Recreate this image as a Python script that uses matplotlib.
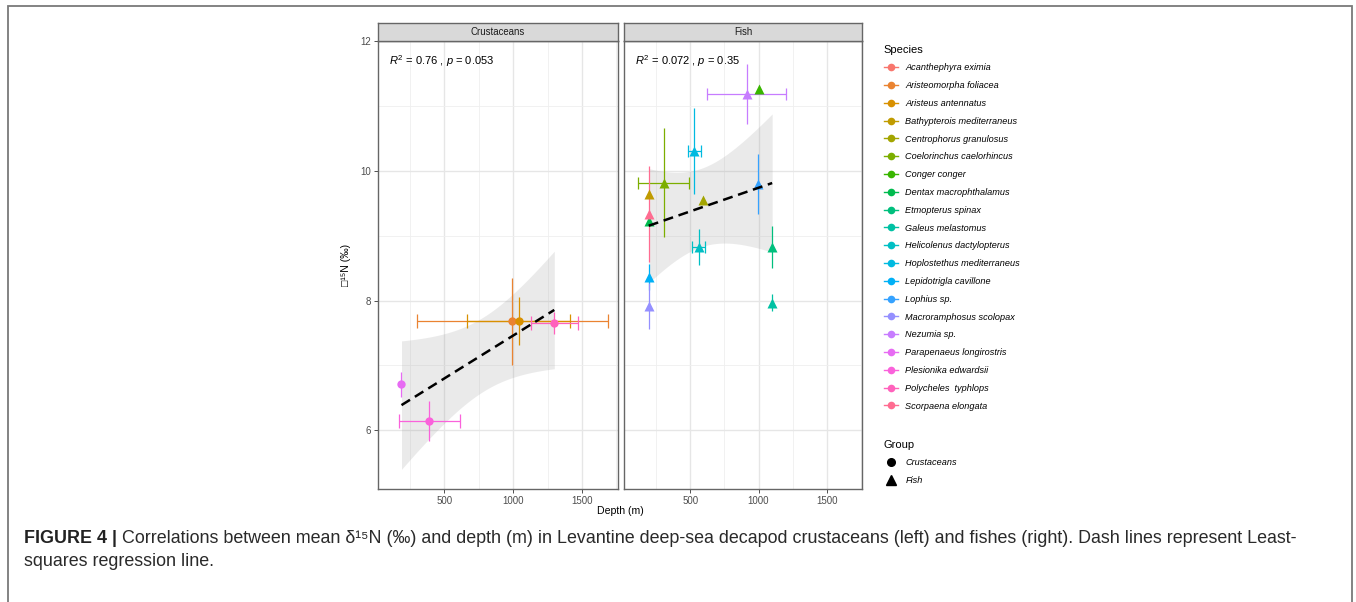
import numpy as np
import matplotlib
matplotlib.use("Agg")
import matplotlib.pyplot as plt
from matplotlib.lines import Line2D
from matplotlib.patches import Rectangle

plt.rcParams['font.family'] = ['Liberation Sans', 'DejaVu Sans']
plt.rcParams['mathtext.fontset'] = 'custom'
plt.rcParams['mathtext.rm'] = 'Liberation Sans'
plt.rcParams['mathtext.it'] = 'Liberation Sans:italic'

# ---------------- data ----------------
species = ["Acanthephyra eximia", "Aristeomorpha foliacea", "Aristeus antennatus",
           "Bathypterois mediterraneus", "Centrophorus granulosus", "Coelorinchus caelorhincus",
           "Conger conger", "Dentax macrophthalamus", "Etmopterus spinax", "Galeus melastomus",
           "Helicolenus dactylopterus", "Hoplostethus mediterraneus", "Lepidotrigla cavillone",
           "Lophius sp.", "Macroramphosus scolopax", "Nezumia sp.", "Parapenaeus longirostris",
           "Plesionika edwardsii", "Polycheles  typhlops", "Scorpaena elongata"]
group = ["Crustaceans", "Crustaceans", "Crustaceans", "Fish", "Fish", "Fish", "Fish", "Fish",
         "Fish", "Fish", "Fish", "Fish", "Fish", "Fish", "Fish", "Fish", "Crustaceans",
         "Crustaceans", "Crustaceans", "Fish"]
nan = np.nan
depth = [nan, 995, 1040, 196, 597, 305, 1000, 196, 1100, 1100, 561, 529, 196, 998, 196,
         913, 188, 390, 1299, 196]
depth_sd = [nan, 695, 375, nan, nan, 189, nan, nan, nan, nan, 50, 48, nan, nan, nan,
            287, nan, 220, 173, nan]
d15n = [nan, 7.68, 7.68, 9.64, 9.56, 9.82, 11.27, 9.23, 8.83, 7.97, 8.83, 10.31, 8.36,
        9.80, 7.92, 11.19, 6.71, 6.14, 7.66, 9.34]
d15n_sd = [nan, 0.67, 0.37, nan, nan, 0.84, nan, nan, 0.32, 0.13, 0.28, 0.66, 0.20,
           0.46, 0.36, 0.46, 0.19, 0.31, 0.17, 0.74]
panels = ["Crustaceans", "Fish"]
stat_labels = [r"$R^2$ = 0.76 , $p$ = 0.053", r"$R^2$ = 0.072 , $p$ = 0.35"]
x_ticks = [500, 1000, 1500]
y_ticks = [6, 8, 10, 12]

# ggplot2 default hue palette (20 levels)
colors = ["#F8766D", "#EA8331", "#D89000", "#C09B00", "#A3A500", "#7CAE00", "#39B600",
          "#00BB4E", "#00BF7D", "#00C1A3", "#00BFC4", "#00BAE0", "#00B0F6", "#35A2FF",
          "#9590FF", "#C77CFF", "#E76BF3", "#FA62DB", "#FF62BC", "#FF6C91"]
markers = {"Crustaceans": "o", "Fish": "^"}
msizes = {"Crustaceans": 6.0, "Fish": 7.4}
capsz = {"Crustaceans": 5.0, "Fish": 4.0}
t_crit = {3: 3.182446, 12: 2.178813}  # 97.5% t quantiles

W, H = 1356, 602
fig = plt.figure(figsize=(W / 100, H / 100), dpi=100)

def fx(px):
    return px / W

def fy(py):
    return 1 - py / H

# outer frame
fig.add_artist(Rectangle((fx(8.3), -0.02), fx(1351.5) - fx(8.3), fy(6.3) + 0.02,
                         transform=fig.transFigure, fill=False, ec="#7a7a7a", lw=1.3,
                         clip_on=False))

panel_x = [(377.7, 617.7), (624.0, 862.3)]
ptop, pbot = 40.7, 489.3
xlim = (15, 1760)
ylim = (5.09, 12.01)

for k, (pname, (x0, x1)) in enumerate(zip(panels, panel_x)):
    ax = fig.add_axes([fx(x0), fy(pbot), fx(x1) - fx(x0), fy(ptop) - fy(pbot)])
    ax.set_xlim(*xlim)
    ax.set_ylim(*ylim)
    ax.set_xticks(x_ticks)
    ax.set_xticks([250, 750, 1250, 1750], minor=True)
    ax.set_yticks(y_ticks)
    ax.set_yticks([7, 9, 11], minor=True)
    ax.grid(which="major", color="#E6E6E6", lw=1.0, zorder=0)
    ax.grid(which="minor", color="#EFEFEF", lw=0.6, zorder=0)
    ax.set_axisbelow(True)
    for sp in ax.spines.values():
        sp.set_color("#666666")
        sp.set_linewidth(1.0)
    ax.tick_params(which="minor", length=0)
    ax.tick_params(which="major", length=2.7, width=0.6, color="#333333",
                   labelsize=7.0, labelcolor="#4D4D4D", pad=1.8)
    if k == 1:
        ax.tick_params(axis="y", which="major", length=0, labelleft=False)

    idx = [i for i in range(len(species)) if group[i] == pname and not np.isnan(depth[i])]
    xs = np.array([depth[i] for i in idx], dtype=float)
    ys = np.array([d15n[i] for i in idx], dtype=float)

    # least squares fit with 95% CI
    n = len(xs)
    xm, ym = xs.mean(), ys.mean()
    sxx = np.sum((xs - xm) ** 2)
    slope = np.sum((xs - xm) * (ys - ym)) / sxx
    icpt = ym - slope * xm
    resid = ys - (icpt + slope * xs)
    s = np.sqrt(np.sum(resid ** 2) / (n - 2))
    xg = np.linspace(xs.min(), xs.max(), 80)
    yg = icpt + slope * xg
    se = s * np.sqrt(1.0 / n + (xg - xm) ** 2 / sxx)
    tc = t_crit[n - 2]
    ax.fill_between(xg, yg - tc * se, yg + tc * se, color="#999999", alpha=0.2, lw=0,
                    zorder=1)

    for i in idx:
        c = colors[i]
        if not np.isnan(d15n_sd[i]):
            ax.errorbar(depth[i], d15n[i], yerr=d15n_sd[i], fmt="none", ecolor=c,
                        elinewidth=0.9, capsize=0, zorder=3)
        if not np.isnan(depth_sd[i]):
            ax.errorbar(depth[i], d15n[i], xerr=depth_sd[i], fmt="none", ecolor=c,
                        elinewidth=0.9, capsize=capsz[pname], capthick=0.9, zorder=3)
    for i in idx:
        ax.plot(depth[i], d15n[i], marker=markers[pname], ms=msizes[pname], color=colors[i],
                mec="none", ls="none", zorder=4)

    ax.plot(xg, yg, color="black", lw=1.8, ls=(0, (4.0, 2.3)), zorder=5)

    ax.text(0.047, 0.955, stat_labels[k], transform=ax.transAxes, fontsize=8.0,
            va="center", ha="left", color="black")

    if k == 0:
        ax.set_ylabel("\u25a1\u00b9\u2075N (\u2030)", fontsize=7.6, color="black")
        ax.yaxis.set_label_coords(-0.112, 0.5)

    # facet strip
    sax = fig.add_axes([fx(x0), fy(ptop), fx(x1) - fx(x0), fy(22.7) - fy(ptop)])
    sax.set_facecolor("#D9D9D9")
    sax.set_xticks([])
    sax.set_yticks([])
    for sp in sax.spines.values():
        sp.set_color("#666666")
        sp.set_linewidth(1.0)
    sax.text(0.5, 0.5, pname, transform=sax.transAxes, ha="center", va="center",
             fontsize=6.9, color="#1A1A1A")

fig.text(fx(620), fy(511), "Depth (m)", ha="center", va="center", fontsize=7.6,
         color="black")

# legends
sp_handles = [Line2D([0], [0], color=colors[i], marker="o", ms=5.5, lw=1.0, mec="none")
              for i in range(len(species))]
leg1 = fig.legend(sp_handles, species, loc="upper left",
                  bbox_to_anchor=(fx(879.0), fy(40.0)), frameon=False, fontsize=6.6,
                  title="Species", title_fontsize=8, alignment="left", borderpad=0,
                  labelspacing=0.96, handlelength=1.6, handletextpad=0.78)
for t in leg1.get_texts():
    t.set_fontstyle("italic")
grp_handles = [Line2D([0], [0], color="black", marker=markers[g], ms=msizes[g] - 0.5,
                      ls="none") for g in panels]
leg2 = fig.legend(grp_handles, panels, loc="upper left",
                  bbox_to_anchor=(fx(879.0), fy(435.0)), frameon=False, fontsize=6.6,
                  title="Group", title_fontsize=8, alignment="left", borderpad=0,
                  labelspacing=0.96, handlelength=1.6, handletextpad=0.78)
for t in leg2.get_texts():
    t.set_fontstyle("italic")

# caption
cap_bold = "FIGURE 4 |"
cap_rest = (" Correlations between mean \u03b4\u00b9\u2075N (\u2030) and depth (m) in Levantine "
            "deep-sea decapod crustaceans (left) and fishes (right). Dash lines represent Least-")
cap_line2 = "squares regression line."
fs = 12.0
t1 = fig.text(fx(24), fy(543), cap_bold, fontsize=fs, fontweight="bold", color="#222222",
              va="baseline", ha="left")
fig.canvas.draw()
r = fig.canvas.get_renderer()
bb = t1.get_window_extent(r)
t2 = fig.text(bb.x1 / W, fy(543), cap_rest, fontsize=fs, color="#2a2a2a", va="baseline",
              ha="left")
fig.canvas.draw()
bb2 = t2.get_window_extent(r)
scale = (1301 - 24) / (bb2.x1 - bb.x0)
fs2 = fs * scale
t1.set_fontsize(fs2)
fig.canvas.draw()
bb = t1.get_window_extent(r)
t2.set_fontsize(fs2)
t2.set_x(bb.x1 / W)
fig.text(fx(24), fy(566), cap_line2, fontsize=fs2, color="#2a2a2a", va="baseline", ha="left")

fig.savefig("out.png", dpi=100)
